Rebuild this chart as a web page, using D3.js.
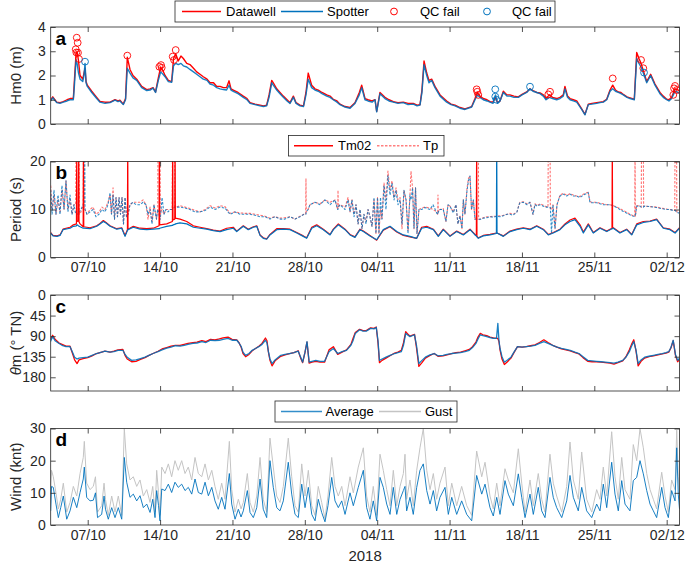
<!DOCTYPE html>
<html>
<head>
<meta charset="utf-8">
<script src="https://cdn.jsdelivr.net/npm/d3@7"></script>
<style>
  body { margin: 0; background: #fff; }
  svg { font-family: "Liberation Sans", Arial, sans-serif; }
</style>
</head>
<body>
<svg id="fig" width="685" height="567"></svg>
<script>
// time = days since 2018-10-01 00:00 UTC

// x ticks
const xTicks = ["2018-10-07", "2018-10-14", "2018-10-21", "2018-10-28", "2018-11-04",
    "2018-11-11", "2018-11-18", "2018-11-25", "2018-12-02"];

// Hm0 (m): [t, spotter, datawell]
const hm0 = [
    [2.42,0.95,1.0],[2.62,1.08,1.12],[3.0,0.88,0.9],[3.32,0.85,0.88],[3.64,0.9,0.92],[4.0,0.95,1.0],[4.29,1.0,1.05],[4.61,1.0,1.05],[4.7,1.5,1.7],[4.87,2.65,2.9],
    [4.97,2.5,3.0],[5.11,2.1,2.6],[5.26,1.85,2.0],[5.52,1.75,1.85],[5.64,2.0,2.1],[5.74,2.5,2.3],[5.84,1.7,1.75],[5.96,1.55,1.6],[6.39,1.3,1.35],[6.87,1.05,1.1],
    [7.19,0.9,0.93],[7.67,0.85,0.9],[8.16,0.88,0.9],[8.64,0.98,1.0],[8.93,0.92,0.95],[9.12,0.95,0.98],[9.44,0.8,0.82],[9.66,1.0,1.05],[9.83,2.3,2.75],[10.09,2.1,2.25],
    [10.38,1.9,2.0],[10.74,1.8,1.85],[11.22,1.5,1.55],[11.71,1.38,1.42],[12.03,1.4,1.45],[12.32,1.48,1.5],[12.56,1.3,1.32],[12.83,1.8,1.9],[13.06,2.15,2.35],[13.28,2.05,2.2],
    [13.48,1.95,2.0],[13.8,1.75,1.8],[14.12,1.72,1.75],[14.3,2.4,2.7],[14.51,2.5,2.9],[14.76,2.45,2.6],[15.02,2.5,2.8],[15.25,2.4,2.7],[15.58,2.35,2.5],[15.89,2.25,2.45],
    [16.23,2.15,2.3],[16.54,2.05,2.15],[16.86,1.95,2.05],[17.18,1.85,1.95],[17.54,1.8,1.85],[17.83,1.65,1.7],[18.17,1.6,1.7],[18.48,1.5,1.55],[18.8,1.45,1.55],[19.12,1.42,1.5],
    [19.43,1.4,1.5],[19.67,1.6,1.78],[19.86,1.4,1.45],[20.08,1.35,1.4],[20.54,1.25,1.3],[21.05,1.1,1.15],[21.41,1.0,1.05],[21.7,0.85,0.88],[22.18,0.8,0.82],[22.67,0.75,0.78],
    [23.0,0.72,0.75],[23.31,0.75,0.78],[23.54,1.1,1.2],[23.8,1.7,1.8],[23.95,1.6,1.7],[24.28,1.4,1.45],[24.6,1.25,1.3],[24.92,1.1,1.15],[25.28,0.95,1.0],[25.57,0.85,0.88],
    [25.89,1.1,1.15],[26.15,0.85,0.88],[26.53,0.75,0.78],[26.87,0.72,0.75],[27.11,1.2,1.3],[27.33,1.85,2.1],[27.66,1.5,1.6],[27.98,1.4,1.45],[28.3,1.35,1.4],[28.66,1.25,1.3],
    [29.12,1.15,1.2],[29.44,1.1,1.15],[29.75,1.0,1.02],[30.11,0.9,0.95],[30.4,0.8,0.82],[30.89,0.7,0.72],[31.37,0.65,0.68],[31.85,0.85,0.88],[32.27,1.2,1.3],[32.5,1.5,1.6],
    [32.82,1.0,1.05],[33.11,0.95,1.0],[33.5,0.9,0.95],[33.79,1.0,1.0],[33.95,0.5,0.52],[34.27,1.25,1.3],[34.75,1.05,1.1],[35.14,0.95,1.0],[35.56,0.9,0.92],[36.01,0.85,0.88],
    [36.52,0.88,0.9],[36.98,0.8,0.85],[37.49,0.82,0.85],[37.85,0.75,0.78],[38.14,0.78,0.8],[38.33,1.3,1.4],[38.53,2.45,2.6],[38.79,2.0,2.1],[39.01,1.7,1.8],[39.27,1.8,1.85],
    [39.59,1.5,1.55],[40.08,1.15,1.2],[40.72,0.9,0.95],[41.14,0.8,0.82],[41.53,0.75,0.78],[42.01,0.65,0.68],[42.49,0.6,0.62],[43.14,0.7,0.72],[43.46,1.0,1.05],[43.68,1.2,1.3],
    [43.94,1.1,1.15],[44.26,1.0,1.05],[44.62,0.95,1.0],[44.91,0.9,0.92],[45.2,0.85,0.9],[45.44,1.2,1.1],[45.64,0.85,0.88],[45.88,0.95,0.95],[46.2,1.3,1.35],[46.55,1.15,1.2],
    [46.84,1.15,1.2],[47.23,1.1,1.15],[47.65,1.1,1.12],[48.01,1.2,1.22],[48.46,1.3,1.32],[48.78,1.45,1.45],[49.07,1.35,1.38],[49.43,1.3,1.3],[49.75,1.25,1.28],[50.07,1.15,1.2],
    [50.33,1.0,1.05],[50.65,1.1,1.2],[50.96,1.05,1.1],[51.36,1.0,1.05],[51.68,1.05,1.1],[52.0,1.15,1.2],[52.16,1.45,1.55],[52.41,1.1,1.15],[52.65,1.0,1.05],[52.97,0.95,1.0],
    [53.3,0.9,0.95],[53.78,0.6,0.62],[54.1,0.38,0.4],[54.42,0.8,0.82],[54.78,0.82,0.85],[55.23,0.85,0.88],[55.55,0.88,0.9],[55.87,0.9,0.92],[56.2,1.0,1.02],[56.52,1.35,1.4],
    [56.78,1.45,1.6],[57.05,1.35,1.4],[57.32,1.3,1.32],[57.58,1.25,1.3],[57.8,1.2,1.22],[58.16,1.1,1.12],[58.45,1.05,1.08],[58.87,1.0,1.02],[59.1,2.7,2.95],[59.32,2.5,2.7],
    [59.52,2.35,2.5],[59.74,2.1,2.2],[60.07,1.7,1.75],[60.45,2.0,2.05],[60.87,1.6,1.65],[61.35,1.25,1.3],[61.67,1.1,1.15],[62.0,1.0,1.02],[62.22,0.95,1.0],[62.48,1.05,1.1],
    [62.81,1.35,1.45],[63.12,1.3,1.4],[63.24,1.25,1.35]
];

// QC fail points: [t, Hm0]
const qcDatawell = [[4.94,3.56],[5.03,3.35],[4.84,3.08],[5.06,2.94],[5.16,2.68],[4.9,2.95],[9.83,2.82],
    [12.93,2.36],[13.09,2.43],[13.16,2.32],[14.22,2.78],[14.35,2.64],[14.51,3.05],[43.62,1.43],[43.68,1.33],
    [43.78,1.2],[50.55,1.22],[50.72,1.33],[56.78,1.88],[59.52,2.64],[59.74,2.3],[62.64,1.2],[62.71,1.47],
    [62.81,1.57],[62.97,1.4]];
const qcSpotter = [[5.74,2.57],[45.42,1.43],[45.42,1.13],[45.54,1.0],[48.78,1.54],[59.81,2.12]];

// Tm02 (s): [t, spotter, datawell]
const tm02 = [
    [2.42,5.1,5.2],[2.64,4.5,4.6],[3.03,4.4,4.5],[3.32,4.6,4.7],[3.61,5.8,5.9],[4.29,6.1,6.3],[4.61,6.5,6.8],[4.91,6.6,7.0],[4.94,6.8,25],[4.97,6.8,7.5],
    [5.10,6.6,7.6],[5.13,6.6,25],[5.16,6.5,7.4],[5.26,6.4,7.0],[5.56,6.1,6.4],[5.59,6.1,25],[5.62,6.1,6.4],[6.22,6.0,6.2],[6.87,6.5,6.6],[7.19,7.0,7.1],
    [7.51,7.5,7.7],[7.77,7.2,7.3],[8.16,6.5,6.6],[8.81,5.9,6.0],[9.29,6.1,6.2],[9.61,4.4,4.6],[9.84,5.6,5.8],[9.87,5.7,25],[9.90,5.8,5.9],[10.41,6.3,6.5],
    [11.06,5.9,6.1],[11.71,5.8,6.0],[12.35,5.9,6.1],[12.90,6.0,6.6],[12.93,6.0,25],[12.96,6.1,6.8],[13.64,6.5,7.0],[14.19,6.7,7.5],[14.22,6.7,25],[14.25,6.8,7.8],
    [14.42,6.9,8.0],[14.45,6.9,25],[14.48,7.0,8.2],[14.93,7.2,8.0],[15.58,7.0,7.5],[16.22,6.3,6.6],[16.86,6.1,6.3],[17.51,5.9,6.0],[18.15,5.6,5.7],[18.8,5.4,5.5],
    [19.44,5.8,6.1],[20.08,6.1,6.3],[20.41,5.4,5.5],[21.05,6.5,6.6],[21.53,5.8,5.9],[22.02,6.3,6.4],[22.35,6.5,6.6],[22.67,4.6,4.7],[22.98,4.0,4.1],[23.31,3.8,3.9],
    [23.63,4.7,4.8],[24.28,5.8,6.0],[24.92,5.9,6.0],[25.57,5.8,5.9],[26.22,5.1,5.2],[26.85,4.4,4.5],[27.18,4.0,4.1],[27.67,6.1,6.3],[28.15,6.6,6.8],[28.79,5.8,5.9],
    [29.44,4.7,4.8],[29.76,5.8,5.9],[30.24,6.8,7.0],[30.89,5.8,5.9],[31.37,4.7,4.8],[31.85,4.2,4.3],[32.34,5.8,5.9],[32.66,5.4,5.5],[33.3,4.5,4.6],[33.95,3.7,3.6],
    [34.59,5.8,5.7],[35.24,6.5,6.4],[35.89,5.4,5.3],[36.53,4.7,4.6],[37.17,4.4,4.3],[37.82,4.0,4.0],[38.3,6.1,6.3],[38.79,6.3,6.5],[39.43,5.8,5.9],[39.91,4.4,4.5],
    [40.39,5.8,5.9],[41.04,4.4,4.5],[41.69,5.4,5.5],[42.33,4.7,4.8],[42.98,5.8,5.9],[43.46,4.7,4.8],[43.59,4.5,4.6],[43.62,4.4,25],[43.65,4.3,4.4],[43.78,4.0,4.1],
    [44.26,4.5,4.6],[44.91,4.7,4.8],[45.53,5.0,5.1],[45.56,25,5.1],[45.59,5.1,5.1],[46.2,4.4,4.5],[46.85,5.4,5.5],[47.49,5.8,5.9],[48.13,6.1,6.2],[48.78,5.8,5.9],
    [49.43,6.5,6.6],[50.07,5.8,5.9],[50.55,4.7,4.8],[51.03,5.1,5.2],[51.68,5.8,5.9],[52.16,6.8,7.0],[52.65,7.5,7.8],[53.13,7.9,8.2],[53.62,6.5,6.8],[53.94,5.1,5.3],
    [54.42,6.8,7.0],[54.9,5.1,5.2],[55.55,6.1,6.2],[56.2,5.4,5.5],[56.71,6.0,6.1],[56.74,6.0,25],[56.77,6.0,6.1],[56.84,6.1,6.2],[57.48,5.1,5.2],[58.13,5.8,5.9],
    [58.62,4.7,4.8],[59.1,6.8,7.0],[59.74,7.3,7.5],[60.39,7.5,7.6],[61.03,7.9,8.0],[61.67,6.1,6.2],[62.32,5.8,5.9],[62.81,5.1,5.2],[63.24,6.1,6.2]
];

// Tp (s): [t, spotter, datawell]
const tp = [
    [2.42,14,15],[2.55,9,10],[2.74,14,13],[2.93,9,9],[3.13,13,12],[3.32,9,9.5],[3.51,15,14],[3.71,10,10],[3.9,16,16],[4.09,9.5,10],
    [4.29,13,12],[4.48,9,9],[4.67,11,11],[4.84,9,11],[4.87,9,25],[5.01,9,25],[5.16,9.5,25],[5.19,9.5,9],[5.35,10,9.5],[5.56,11,11],
    [5.59,11,25],[5.62,11,11],[5.68,11,10],[5.71,25,10],[5.74,10,10],[5.93,9,9],[6.22,9.5,10],[6.51,10,10.5],[6.8,8.5,9],[7.09,9,9.5],
    [7.38,10,10.5],[7.67,9.5,10],[7.96,11,11.5],[8.16,13.5,13],[8.3,9,9],[8.45,13,14.5],[8.59,8,8],[8.74,12.5,12.5],[8.88,8.5,8.5],[9.03,12.5,12.5],
    [9.17,9,9],[9.32,12.5,12.5],[9.46,7,7],[9.61,12.5,12.5],[9.75,8.5,8.5],[9.9,9,9],[10.09,11,11],[10.38,11.5,11.5],[10.67,11,11.5],[11.06,11,11.5],
    [11.35,11.5,12],[11.64,11,11],[11.83,9,8],[12.03,10,10.5],[12.22,7,7.5],[12.41,11,11],[12.65,8,8],[12.77,10,10],[12.8,10,25],[12.99,8,25],
    [13.02,8,9],[13.19,12.5,10],[13.38,9,9],[13.57,10,10],[13.77,9.5,10],[13.96,10,10],[14.17,10,10],[14.2,10,25],[14.4,10.5,25],[14.43,10.5,10.5],
    [14.59,10.5,10.5],[14.93,10.5,10.8],[15.41,10.3,10.5],[15.89,10,10.2],[16.38,9.5,9.8],[16.86,9.5,9.5],[17.35,9.8,10],[17.83,10.5,10.8],[18.31,10,10.3],[18.8,10.5,10.8],
    [19.28,10.3,10.6],[19.76,9,9.2],[20.25,9.5,9.5],[20.73,9,9.3],[21.22,9,9.2],[21.7,9,9.2],[22.18,8.8,9],[22.67,8.5,8.8],[23.15,8.5,8.6],[23.63,8,8.2],
    [24.12,8.5,8.5],[24.6,8,8.2],[25.08,8,8.3],[25.57,8.5,8.5],[26.05,8,8],[26.53,8.5,8.6],[26.92,9,9],[27.08,9,9],[27.11,9,16.5],[27.14,9.5,9.5],
    [27.31,10,10],[27.5,11,11],[27.98,11.5,11.5],[28.47,11,11.2],[28.95,12,12],[29.44,11,11.5],[29.92,12,12],[30.18,10,10],[30.21,10,14],[30.24,10.5,10.5],
    [30.4,11,11],[30.89,10,10.5],[31.18,12,12.5],[31.37,9.5,9.5],[31.56,12,12],[31.76,8.5,9],[31.95,11,11],[32.15,7,7],[32.34,10,10],[32.53,6,6],
    [32.72,9,9],[32.92,7,7.5],[33.11,10,10],[33.3,8.5,8.5],[33.5,6.5,6.5],[33.69,12.5,12],[33.88,5,5],[34.03,12.5,12.5],[34.17,5,5],[34.32,12.5,10],
    [34.46,8,8],[34.66,15,15.5],[34.85,10,12],[35.04,17,18],[35.24,13,14],[35.43,15.5,16],[35.63,12,12.5],[35.82,14,14.5],[36.01,11,12],[36.21,12,12.5],
    [36.4,7,6],[36.59,14,14],[36.79,12,12],[36.98,5,5.5],[37.17,13,13],[37.27,12,18],[37.42,14.5,14.5],[37.56,6,6],[37.71,14.5,14.5],[37.85,5,5],
    [38.04,10,10],[38.3,10,10.3],[38.62,10.4,10.5],[39.11,10,10.3],[39.4,11,10],[39.75,9.3,9.5],[39.85,9,9],[39.88,9,13],[39.91,9.5,9.5],[40.07,10,10],
    [40.39,10,10.2],[40.65,7.5,7.5],[40.85,11,11],[41.04,10.7,10.7],[41.36,9.3,9.5],[41.62,11,11],[41.81,7,7],[42.01,8.6,8.8],[42.2,6,6],[42.33,12,12],
    [42.49,9,9],[42.69,14,14.5],[42.83,16,16.5],[42.98,17,17],[43.12,10,10],[43.3,12,12],[43.46,8,8],[43.59,8,8],[43.62,8,25],[43.78,8,25],
    [43.81,8,8],[43.94,7.9,8],[44.26,8.2,8.3],[44.62,8.3,8.5],[44.91,8.5,8.5],[45.23,8.4,8.6],[45.56,8.6,8.6],[45.88,8.5,8.7],[46.2,8.7,8.8],[46.55,9,9],
    [46.85,9,9.2],[47.14,8.8,9],[47.52,9.5,9.5],[47.72,11,11],[47.81,11.4,11.5],[48.13,11.5,11.6],[48.49,11,11.2],[48.78,11.5,11.5],[49.07,9,9],[49.26,11,11.2],
    [49.46,10.7,10.8],[49.75,11,11.2],[50.07,10.7,10.9],[50.33,10.5,10.6],[50.52,10.5,10.5],[50.55,10.5,25],[50.72,10.4,25],[50.75,10.4,10],[50.86,5,10],[51.0,11,11],
    [51.2,6,6],[51.39,11,11],[51.54,12,12],[51.68,12.8,13],[52.0,13.2,13.4],[52.33,12.8,13],[52.65,13.2,13.3],[52.97,12.8,13],[53.3,12.8,12.8],[53.62,12.5,12.7],
    [53.94,13,13.2],[54.26,13.3,13.5],[54.42,13.5,13.6],[54.58,11.5,11.6],[54.78,11.4,11.5],[55.23,11.4,11.5],[55.55,11.2,11.3],[55.87,11,11.2],[56.2,11,11],[56.52,11,11],
    [56.84,10.8,10.8],[57.17,10.4,10.5],[57.48,10,10.2],[57.81,9.6,9.8],[58.16,9.2,9.4],[58.45,8.9,9],[58.77,8.6,8.7],[58.91,8.6,8.6],[58.94,8.6,25],[58.97,8.6,8.6],
    [59.1,10.7,10.8],[59.42,10.7,10.7],[59.54,10.5,10.5],[59.57,10.5,25],[59.74,10.5,25],[59.77,10.6,10.6],[59.9,10.7,10.7],[60.39,10.6,10.6],[61.03,10.4,10.5],[61.45,10.2,10.3],
    [62.0,10,10.1],[62.32,10,10],[62.61,9.8,9.9],[62.78,9.8,9.8],[62.81,9.8,25],[62.95,9.5,25],[62.98,9.5,9.5],[63.1,9.3,9.5],[63.24,9.3,9.4]
];

// mean direction (deg TN): [t, spotter, datawell]
const dirM = [
    [2.39,102,98],[2.61,91,88],[2.84,100,97],[3.23,106,105],[3.51,110,108],[3.9,113,112],[4.29,113,112],[4.53,125,128],[4.73,136,142],[4.97,140,150],
    [5.16,138,142],[5.55,137,139],[6.0,136,137],[6.42,132,133],[6.85,128,128],[7.19,126,126],[7.67,123,123],[8.16,125,125],[8.54,124,123],[8.93,121,120],
    [9.4,121,119],[9.61,130,132],[9.82,136,140],[10.25,143,146],[10.67,142,145],[11.1,139,141],[11.54,136,137],[11.93,132,132],[12.32,128,128],[12.8,124,123],
    [13.19,120,118],[13.64,116,115],[14.06,114,112],[14.48,111,110],[14.93,112,110],[15.33,110,108],[15.7,108,106],[16.18,106,104],[16.57,105,103],[17.04,102,100],
    [17.44,104,102],[17.88,99,97],[18.31,100,98],[18.73,99,96],[19.09,97,94],[19.57,95,92],[19.96,99,97],[20.42,99,98],[20.63,105,104],[20.85,113,115],
    [21.02,125,128],[21.27,132,135],[21.6,128,130],[21.91,121,122],[22.23,117,117],[22.55,113,112],[22.86,108,106],[23.19,99,94],[23.34,105,100],[23.48,124,125],
    [23.63,140,143],[23.83,150,155],[24.12,142,144],[24.67,132,134],[25.08,130,131],[25.52,128,128],[25.95,126,126],[26.36,123,122],[26.58,135,137],[26.79,147,148],
    [27.02,125,125],[27.21,102,103],[27.42,147,149],[27.69,145,147],[28.06,143,145],[28.47,145,147],[28.91,145,147],[29.34,124,120],[29.76,117,113],[30.18,128,130],
    [30.6,124,125],[31.03,121,120],[31.46,110,108],[31.66,100,95],[31.88,84,82],[32.3,76,75],[32.63,79,78],[32.94,79,78],[33.36,73,72],[33.69,74,73],
    [33.91,71,70],[34.08,100,105],[34.22,143,148],[34.47,140,143],[34.85,136,138],[35.24,132,133],[35.69,128,127],[36.01,126,125],[36.33,124,121],[36.54,110,105],
    [36.76,84,80],[36.98,88,86],[37.17,91,90],[37.61,87,86],[37.8,110,115],[38.03,150,156],[38.33,143,148],[38.66,136,138],[39.11,131,132],[39.51,128,128],
    [39.88,133,134],[40.37,132,133],[40.75,130,131],[41.21,128,128],[41.62,127,126],[42.06,126,125],[42.49,124,122],[42.91,121,119],[43.22,115,113],[43.55,106,103],
    [43.75,96,92],[43.97,87,84],[44.23,89,87],[44.6,91,89],[44.91,93,92],[45.24,95,94],[45.54,95,95],[45.67,62,95],[45.78,100,102],[45.88,117,120],
    [46.07,135,140],[46.3,147,152],[46.6,142,146],[46.94,136,138],[47.23,125,126],[47.57,113,113],[48.01,114,114],[48.42,113,113],[48.83,112,111],[49.26,110,109],
    [49.7,106,104],[50.12,102,98],[50.52,106,104],[50.97,110,110],[51.39,114,114],[51.82,117,118],[52.26,119,120],[52.67,121,122],[53.13,125,126],[53.52,128,129],
    [53.91,135,137],[54.36,143,145],[54.78,144,146],[55.21,145,146],[55.65,146,147],[56.06,147,148],[56.52,148,149],[56.9,149,151],[57.29,147,148],[57.75,143,144],
    [58.06,136,135],[58.39,124,120],[58.6,112,108],[58.82,102,98],[59.03,120,122],[59.24,150,155],[59.52,142,145],[59.87,136,138],[60.29,134,135],[60.72,132,133],
    [61.16,130,131],[61.57,128,129],[61.93,126,127],[62.2,124,125],[62.41,115,116],[62.63,99,100],[62.85,130,132],[63.06,143,146],[63.24,138,141]
];

// wind (knt): [t, average, gust]
const wind = [
    [2.42,4.4,12],[2.5,12,17],[2.67,11.7,15],[2.93,6.5,10],[3.16,2.3,5],[3.39,5.4,8],[3.64,9,13],[3.97,1.8,4],[4.29,4.4,7],[4.61,8.6,12],
    [4.94,5.4,9],[5.26,10.1,16],[5.57,14.3,21],[5.67,18,26],[5.9,8.6,13],[6.22,7.5,11],[6.54,7.7,12],[6.75,10,15],[6.95,2.3,4],[7.35,3.3,6],
    [7.58,9,13],[7.72,4.9,8],[7.99,1.8,3],[8.32,5.4,9],[8.64,2.3,4],[8.96,5.4,9],[9.29,1.8,3],[9.54,21,30],[9.77,13.3,19],[10.09,8.6,14],
    [10.41,9.6,15],[10.74,7.5,12],[11.06,9.1,14],[11.38,5.4,9],[11.71,6.5,11],[12.03,3.9,7],[12.29,8,12],[12.51,2.3,4],[12.67,10.7,17],[12.85,6,10],
    [12.99,1.3,3],[13.16,11.2,18],[13.48,10.7,16],[13.8,12.7,19],[14.12,10.1,15],[14.44,13.3,20],[14.76,11.7,17],[15.09,12.7,20],[15.41,10.7,16],[15.73,11.7,18],
    [16.06,9.6,14],[16.38,14.3,21],[16.7,10.1,16],[17.03,9.6,15],[17.35,13.3,19],[17.67,9.1,14],[18.0,11.7,17],[18.31,7.5,12],[18.63,4.9,8],[18.96,8.6,13],
    [19.28,4.9,8],[19.7,16,26],[19.93,6.5,11],[20.25,1.8,4],[20.57,4.9,8],[20.83,2.5,5],[21.05,4.4,7],[21.44,10.7,16],[21.7,3.9,7],[22.02,2.3,4],
    [22.35,5.4,9],[22.67,14.3,21],[22.98,4.9,8],[23.31,2.3,4],[23.63,20,27],[23.95,11.7,18],[24.28,5.4,9],[24.6,4.4,7],[24.92,7.5,12],[25.4,19.5,27],
    [25.73,9.6,15],[26.05,3.3,6],[26.37,2.3,4],[26.7,12.7,19],[27.02,5.4,9],[27.34,11.7,17],[27.67,3.3,6],[27.99,1.3,3],[28.3,8,12],[28.63,3.9,7],
    [28.95,1,2],[29.24,6,9],[29.6,14.8,21],[29.92,7.5,12],[30.24,5.4,9],[30.57,7.5,12],[30.89,3.3,6],[31.37,10,15],[31.69,6,10],[32.17,11.7,18],
    [32.66,17,24],[32.98,5.4,9],[33.3,1.8,4],[33.62,7.5,12],[33.95,1.3,3],[34.27,14.8,22],[34.59,11.7,17],[34.92,6.5,11],[35.24,3.3,6],[35.56,11.7,17],
    [35.89,3.3,6],[36.21,8,12],[36.53,10.7,16],[36.69,12,22],[36.85,4.4,8],[37.17,8.6,14],[37.49,3.3,6],[37.82,11.7,17],[38.14,17,24],[38.46,19,30],
    [38.79,10.7,17],[39.11,6.5,11],[39.43,10.7,16],[39.75,4.4,8],[40.07,8.6,13],[40.56,11.7,18],[40.88,3.3,6],[41.21,8.6,13],[41.69,3.3,6],[42.17,7.5,12],
    [42.66,3.3,6],[43.14,1.3,3],[43.62,15.4,23],[44.11,9.6,15],[44.43,12.7,19.5],[44.91,5.4,9],[45.23,2.8,5],[45.56,8.6,13],[45.88,3.3,6],[46.36,13.8,17.5],
    [46.68,9.6,14],[47.17,6,10],[47.65,15.9,23.7],[47.98,8.6,13],[48.3,2.3,4],[48.78,9.6,14],[49.1,3.3,6],[49.58,11.7,16],[49.91,4.4,8],[50.23,2.3,4],
    [50.71,14.8,22],[51.03,8.6,13],[51.36,5.4,9],[51.85,2.3,4],[52.33,7.5,12],[52.65,15.4,25.8],[52.97,8.6,14],[53.45,4.4,8],[53.78,11.7,22.7],[54.26,4.4,8],
    [54.75,2.3,4],[55.23,6.5,11],[55.55,4.4,8],[55.87,12.7,18],[56.2,5.4,9],[56.68,19.5,29],[57.0,9.6,15],[57.32,4.4,8],[57.65,13.8,21],[57.97,6.5,11],
    [58.45,4.4,8],[58.77,13.8,25],[59.1,14.8,20],[59.42,20,30],[59.74,15.9,24],[60.07,10.7,16],[60.39,6.5,11],[60.71,4.4,8],[61.03,2.3,5],[61.52,11.7,16.4],
    [61.84,5.4,9],[62.16,2.3,4],[62.48,10.7,14],[62.81,7.5,11],[62.97,24,29.5],[63.12,9.6,15],[63.24,5,9]
];

const hm0Ticks = [0, 1, 2, 3, 4];
const periodTicks = [0, 10, 20];
const dirTicks = [0, 45, 90, 135, 180];
const windTicks = [0, 10, 20, 30];

const RED = "#ff0000", BLUE = "#0072bd", GREY = "#c4c4c4", INK = "#262626";
const FONT = '"Liberation Sans", Arial, sans-serif';

const svg = d3.select("#fig");
const T0 = Date.UTC(2018, 9, 1);
const toDate = t => new Date(T0 + t * 864e5);
const L = 50.7, R = 679.5;
const x = d3.scaleUtc().domain([toDate(2.42), toDate(63.24)]).range([L, R]);
const tickDates = xTicks.map(s => new Date(s + "T00:00:00Z"));
const fmt = d3.utcFormat("%d/%m");
const defs = svg.append("defs");

function makePanel(id, top, bottom, domain, ticks, reverse) {
    const y = d3.scaleLinear().domain(domain).range(reverse ? [top, bottom] : [bottom, top]);
    defs.append("clipPath").attr("id", "clip-" + id).append("rect")
        .attr("x", L).attr("y", top).attr("width", R - L).attr("height", bottom - top);
    const g = svg.append("g").attr("clip-path", `url(#clip-${id})`);
    return { id, top, bottom, y, ticks, g };
}

function drawLine(p, data, col, color, opts = {}) {
    const line = d3.line().x(d => x(toDate(d[0]))).y(d => p.y(d[col]));
    p.g.append("path").datum(data).attr("d", line).attr("fill", "none")
        .attr("stroke", color).attr("stroke-width", opts.w || 1)
        .attr("stroke-opacity", opts.op || 1)
        .attr("stroke-dasharray", opts.dash || null)
        .attr("stroke-linejoin", "round");
}

function drawAxes(p, labels, letter, ylab) {
    const ax = svg.append("g");
    ax.append("g").attr("transform", `translate(0,${p.bottom})`)
        .call(d3.axisBottom(x).tickValues(tickDates).tickSize(-5).tickPadding(5).tickFormat(labels ? fmt : ""));
    ax.append("g").attr("transform", `translate(0,${p.top})`)
        .call(d3.axisTop(x).tickValues(tickDates).tickSize(-5).tickFormat(""));
    ax.append("g").attr("transform", `translate(${L},0)`)
        .call(d3.axisLeft(p.y).tickValues(p.ticks).tickSize(-5).tickPadding(5).tickFormat(d3.format("d")));
    ax.append("g").attr("transform", `translate(${R},0)`)
        .call(d3.axisRight(p.y).tickValues(p.ticks).tickSize(-5).tickFormat(""));
    ax.selectAll(".domain").remove();
    ax.selectAll(".tick line").attr("stroke", INK).attr("stroke-width", 0.8);
    ax.selectAll(".tick text").attr("font-size", 14).attr("fill", INK).attr("font-family", FONT);
    ax.append("rect").attr("x", L).attr("y", p.top).attr("width", R - L).attr("height", p.bottom - p.top)
        .attr("fill", "none").attr("stroke", INK).attr("stroke-width", 0.8);
    ax.append("text").attr("x", 55.5).attr("y", p.top + 17.5).attr("font-size", 19)
        .attr("font-weight", "bold").attr("fill", "#000").text(letter);
    const yl = ax.append("text").attr("transform", `translate(16,${(p.top + p.bottom) / 2}) rotate(-90)`)
        .attr("text-anchor", "middle").attr("dy", "0.35em").attr("font-size", 15).attr("fill", INK);
    ylab.forEach(([s, italic]) => yl.append("tspan").attr("font-style", italic ? "italic" : null).text(s));
}

function legend(box, items) {
    const g = svg.append("g");
    g.append("rect").attr("x", box[0]).attr("y", box[1]).attr("width", box[2]).attr("height", box[3])
        .attr("fill", "#fff").attr("stroke", INK).attr("stroke-width", 0.8);
    const cy = box[1] + box[3] / 2;
    items.forEach(it => {
        if (it.circle) {
            g.append("circle").attr("cx", it.x0).attr("cy", cy).attr("r", 3.4)
                .attr("fill", "none").attr("stroke", it.color).attr("stroke-width", 1);
        } else {
            g.append("line").attr("x1", it.x0).attr("x2", it.x1).attr("y1", cy).attr("y2", cy)
                .attr("stroke", it.color).attr("stroke-width", 1.3)
                .attr("stroke-opacity", it.op || 1).attr("stroke-dasharray", it.dash || null);
        }
        g.append("text").attr("x", it.tx).attr("y", cy).attr("dy", "0.35em")
            .attr("font-size", 13).attr("fill", "#000").text(it.label);
    });
}

// panel a: Hm0
const pa = makePanel("a", 27, 124, [0, 4], hm0Ticks, false);
drawLine(pa, hm0, 2, RED, { w: 1.4 });
drawLine(pa, hm0, 1, BLUE, { w: 1.4, op: 0.9 });
pa.g.selectAll("circle.qd").data(qcDatawell).join("circle").attr("class", "qd")
    .attr("cx", d => x(toDate(d[0]))).attr("cy", d => pa.y(d[1])).attr("r", 3.4)
    .attr("fill", "none").attr("stroke", RED).attr("stroke-width", 0.9);
pa.g.selectAll("circle.qs").data(qcSpotter).join("circle").attr("class", "qs")
    .attr("cx", d => x(toDate(d[0]))).attr("cy", d => pa.y(d[1])).attr("r", 3.4)
    .attr("fill", "none").attr("stroke", BLUE).attr("stroke-width", 0.9);
drawAxes(pa, false, "a", [["Hm0 (m)"]]);

// panel b: periods
const pb = makePanel("b", 161.5, 257.5, [0, 20], periodTicks, false);
drawLine(pb, tp, 2, RED, { w: 1.1, op: 0.55, dash: "2.5,1.5" });
drawLine(pb, tp, 1, BLUE, { w: 1.1, op: 0.8, dash: "2.5,1.5" });
drawLine(pb, tm02, 2, RED, { w: 1.2 });
drawLine(pb, tm02, 1, BLUE, { w: 1.2 });
drawAxes(pb, true, "b", [["Period (s)"]]);

// panel c: direction
const pc = makePanel("c", 295, 391, [0, 210], dirTicks, true);
drawLine(pc, dirM, 2, RED, { w: 1.3 });
drawLine(pc, dirM, 1, BLUE, { w: 1.3, op: 0.9 });
drawAxes(pc, false, "c", [["θ", true], ["m (° TN)"]]);

// panel d: wind
const pd = makePanel("d", 428.5, 525, [0, 30], windTicks, false);
drawLine(pd, wind, 2, GREY, { w: 1 });
drawLine(pd, wind, 1, BLUE, { w: 1, op: 0.9 });
drawAxes(pd, true, "d", [["Wind (knt)"]]);

svg.append("text").attr("x", (L + R) / 2).attr("y", 561).attr("text-anchor", "middle")
    .attr("font-size", 15).attr("fill", INK).text("2018");

// legends
legend([175, 1, 380, 21], [
    { x0: 182, x1: 221, tx: 226, color: RED, label: "Datawell" },
    { x0: 281, x1: 323, tx: 327, color: BLUE, label: "Spotter" },
    { circle: true, x0: 394, tx: 420, color: RED, label: "QC fail" },
    { circle: true, x0: 487, tx: 512, color: BLUE, label: "QC fail" }
]);
legend([288.5, 135.5, 155.5, 20.5], [
    { x0: 294, x1: 333, tx: 338, color: RED, label: "Tm02" },
    { x0: 377, x1: 419, tx: 423, color: RED, op: 0.5, dash: "2.5,1.5", label: "Tp" }
]);
legend([275, 401, 182, 21], [
    { x0: 281, x1: 322, tx: 325.5, color: BLUE, op: 0.8, label: "Average" },
    { x0: 379, x1: 421, tx: 425, color: GREY, label: "Gust" }
]);
</script>
</body>
</html>
